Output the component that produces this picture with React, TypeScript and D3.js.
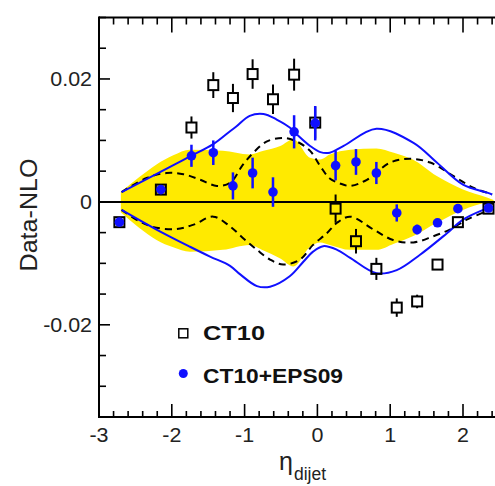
import React from "react";
import * as d3 from "d3";

// ---- data ----
const etaPts = [-2.72, -2.15, -1.73, -1.43, -1.16, -0.89, -0.61, -0.32, -0.03, 0.25, 0.53, 0.81, 1.09, 1.37, 1.65, 1.93, 2.35];
const ct10Val = [-0.0033, 0.002, 0.0121, 0.019, 0.0169, 0.0208, 0.0167, 0.0207, 0.0129, -0.0011, -0.0064, -0.0109, -0.0172, -0.0162, -0.0102, -0.0033, -0.0011];
const ct10Err = [0.0005, 0.0006, 0.0018, 0.0021, 0.0023, 0.0024, 0.0024, 0.0026, 0.0026, 0.0023, 0.002, 0.0018, 0.0015, 0.0011, 0.0008, 0.0006, 0.0005];
const epsVal = [-0.0033, 0.002, 0.0075, 0.008, 0.0026, 0.0047, 0.0016, 0.0114, 0.0128, 0.0059, 0.0065, 0.0047, -0.0018, -0.0045, -0.0034, -0.0011, -0.001];
const epsErr = [0.0004, 0.0005, 0.0018, 0.002, 0.0022, 0.0025, 0.0024, 0.0027, 0.0028, 0.0024, 0.0021, 0.0018, 0.0014, 0.0008, 0.0005, 0.0004, 0.0004];

const bandEta = [-2.7, -2.45, -2.21, -1.98, -1.75, -1.3, -0.93, -0.74, -0.51, -0.33, -0.1, 0.04, 0.17, 0.45, 0.81, 1.05, 1.31, 1.64, 2.0, 2.33, 2.42];
const bandHi = [0.0016, 0.004, 0.0061, 0.0076, 0.0085, 0.0083, 0.0077, 0.0083, 0.0091, 0.0102, 0.0072, 0.0069, 0.0077, 0.0085, 0.0087, 0.008, 0.0069, 0.0042, 0.002, 0.0007, 0.0003];
const bandLo = [-0.0017, -0.0042, -0.0062, -0.0074, -0.0081, -0.0078, -0.007, -0.0079, -0.0092, -0.0105, -0.0073, -0.0066, -0.007, -0.0078, -0.0078, -0.0068, -0.0056, -0.0034, -0.0013, -0.0001, 0.0];

const blueUpEta = [-2.69, -2.07, -1.75, -1.43, -1.2, -1.11, -0.93, -0.74, -0.56, -0.38, -0.32, -0.1, 0.04, 0.17, 0.36, 0.81, 1.32, 1.64, 2.0, 2.33, 2.4];
const blueUpVal = [0.0016, 0.0054, 0.0074, 0.0094, 0.0115, 0.0123, 0.014, 0.0143, 0.0134, 0.0121, 0.0114, 0.0091, 0.0081, 0.008, 0.0091, 0.0119, 0.0096, 0.0064, 0.0028, 0.0015, 0.0012];
const blueLoEta = [-2.69, -2.21, -1.75, -1.475, -1.2, -1.06, -0.83, -0.65, -0.38, -0.19, -0.06, 0.08, 0.27, 0.45, 0.81, 1.09, 1.41, 1.78, 2.0, 2.28, 2.4];
const blueLoVal = [-0.0013, -0.0045, -0.0073, -0.0089, -0.0104, -0.0118, -0.0137, -0.0138, -0.0121, -0.0097, -0.0081, -0.0072, -0.0078, -0.0091, -0.0116, -0.0111, -0.0086, -0.0051, -0.0029, -0.0013, -0.0008];
const dashUpEta = [-2.69, -2.345, -2.07, -1.84, -1.61, -1.38, -1.2, -1.02, -0.88, -0.7, -0.47, -0.28, -0.1, 0.04, 0.17, 0.31, 0.45, 0.68, 1.0, 1.27, 1.55, 1.87, 2.14, 2.33, 2.4];
const dashUpVal = [0.0016, 0.0039, 0.0047, 0.0045, 0.0036, 0.0026, 0.0031, 0.0061, 0.008, 0.0098, 0.0104, 0.0098, 0.0083, 0.0058, 0.0038, 0.003, 0.0026, 0.0036, 0.0064, 0.007, 0.0064, 0.0042, 0.0023, 0.0015, 0.0012];
const dashLoEta = [-2.69, -2.44, -2.21, -1.93, -1.7, -1.43, -1.2, -1.02, -0.83, -0.65, -0.47, -0.24, -0.06, 0.13, 0.27, 0.45, 0.77, 1.04, 1.32, 1.59, 1.82, 2.05, 2.33, 2.4];
const dashLoVal = [-0.0013, -0.0032, -0.0042, -0.0044, -0.0037, -0.0024, -0.004, -0.0059, -0.0078, -0.0094, -0.0102, -0.0094, -0.007, -0.0051, -0.0034, -0.0024, -0.0045, -0.0062, -0.0066, -0.0056, -0.0045, -0.0029, -0.0015, -0.0012];

const xMajor = [-3, -2, -1, 0, 1, 2];
const xLabels = ["-3", "-2", "-1", "0", "1", "2"];
const yMajor = [-0.02, 0, 0.02];
const yLabels = ["-0.02", "0", "0.02"];
const legendLabels = ["CT10", "CT10+EPS09"];

const W = 495;
const H = 486;
const FONT = "'Liberation Sans', Arial, Helvetica, sans-serif";
const BLUE = "#1010ff";
const YELLOW = "#ffea00";

export default function App() {
  const x = d3.scaleLinear().domain([-3, 2.5]).range([99, 99 + 5.5 * 72.8]);
  const y = d3.scaleLinear().domain([-0.035, 0.03]).range([417, 17.5]);
  const x0 = x(-3);
  const yTop = y(0.03);
  const yBot = y(-0.035);

  const band = d3
    .area<number>()
    .x((_, i) => x(bandEta[i]))
    .y0((_, i) => y(bandLo[i]))
    .y1((_, i) => y(bandHi[i]))
    .curve(d3.curveMonotoneX);

  const mkLine = (etas: number[], vals: number[]) =>
    d3
      .line<number>()
      .x((_, i) => x(etas[i]))
      .y((d) => y(d))
      .curve(d3.curveCatmullRom.alpha(0.5))(vals) || "";

  const xMinor = d3.range(-3, 2.51, 0.2).map((v) => Math.round(v * 10) / 10);
  const yMinor = d3.range(-0.035, 0.0301, 0.005).map((v) => Math.round(v * 1000) / 1000);

  const sq = 10;

  return (
    <svg width={W} height={H} style={{ position: "absolute", left: 0, top: 0, background: "#fff" }} fontFamily={FONT}>
      <rect x={0} y={0} width={W} height={H} fill="#fff" />
      {/* band */}
      <path d={band(bandHi) || ""} fill={YELLOW} stroke="none" />
      {/* zero line */}
      <line x1={x0} x2={W} y1={y(0)} y2={y(0)} stroke="#000" strokeWidth={2} />
      {/* dashed */}
      <path d={mkLine(dashUpEta, dashUpVal)} fill="none" stroke="#000" strokeWidth={2} strokeDasharray="7,5" />
      <path d={mkLine(dashLoEta, dashLoVal)} fill="none" stroke="#000" strokeWidth={2} strokeDasharray="7,5" />
      {/* blue */}
      <path d={mkLine(blueUpEta, blueUpVal)} fill="none" stroke={BLUE} strokeWidth={2} />
      <path d={mkLine(blueLoEta, blueLoVal)} fill="none" stroke={BLUE} strokeWidth={2} />
      {/* CT10 */}
      {etaPts.map((e, i) => {
        const cx = x(e);
        const cy = y(ct10Val[i]);
        const yHi = y(ct10Val[i] + ct10Err[i]);
        const yLo = y(ct10Val[i] - ct10Err[i]);
        return (
          <g key={"c" + i}>
            {yHi < cy - sq / 2 && <line x1={cx} x2={cx} y1={yHi} y2={cy - sq / 2} stroke="#000" strokeWidth={2} />}
            {yLo > cy + sq / 2 && <line x1={cx} x2={cx} y1={cy + sq / 2} y2={yLo} stroke="#000" strokeWidth={2} />}
            <rect x={cx - sq / 2} y={cy - sq / 2} width={sq} height={sq} fill="none" stroke="#000" strokeWidth={2} />
          </g>
        );
      })}
      {/* EPS09 */}
      {etaPts.map((e, i) => {
        const cx = x(e);
        const cy = y(epsVal[i]);
        return (
          <g key={"e" + i}>
            <line x1={cx} x2={cx} y1={y(epsVal[i] + epsErr[i])} y2={y(epsVal[i] - epsErr[i])} stroke={BLUE} strokeWidth={2.5} />
            <circle cx={cx} cy={cy} r={4.8} fill={BLUE} />
          </g>
        );
      })}
      {/* axes frame */}
      <line x1={x0} x2={W} y1={yBot} y2={yBot} stroke="#000" strokeWidth={2} />
      <line x1={x0} x2={W} y1={yTop} y2={yTop} stroke="#000" strokeWidth={2} />
      <line x1={x0} x2={x0} y1={yTop - 1} y2={yBot + 1} stroke="#000" strokeWidth={2} />
      {/* x ticks */}
      {xMinor.map((v, i) => {
        const major = Math.abs(v - Math.round(v)) < 1e-6;
        const px = x(v);
        return (
          <g key={"xt" + i}>
            <line x1={px} x2={px} y1={yBot} y2={yBot - (major ? 13 : 6)} stroke="#000" strokeWidth={1.6} />
            <line x1={px} x2={px} y1={yTop} y2={yTop + (major ? 15 : 7)} stroke="#000" strokeWidth={1.6} />
          </g>
        );
      })}
      {/* y ticks */}
      {yMinor.map((v, i) => {
        const major = yMajor.some((m) => Math.abs(m - v) < 1e-6);
        const py = y(v);
        return <line key={"yt" + i} x1={x0} x2={x0 + (major ? 11 : 7)} y1={py} y2={py} stroke="#000" strokeWidth={1.6} />;
      })}
      {/* tick labels */}
      {xMajor.map((v, i) => (
        <text key={"xl" + i} transform={`translate(${x(v)},442) scale(1.1,1)`} textAnchor="middle" fontSize={19.5} fill="#222">
          {xLabels[i]}
        </text>
      ))}
      {yMajor.map((v, i) => (
        <text key={"yl" + i} transform={`translate(92,${y(v) + 7}) scale(1.1,1)`} textAnchor="end" fontSize={19.5} fill="#222">
          {yLabels[i]}
        </text>
      ))}
      {/* axis titles */}
      <text transform="translate(37,215) rotate(-90)" textAnchor="middle" fontSize={23} fill="#222" textLength={113} lengthAdjust="spacingAndGlyphs">
        Data-NLO
      </text>
      <text x={279} y={470} fontSize={25} fill="#222">
        η
      </text>
      <text x={294} y={480} fontSize={17.5} fill="#222">
        dijet
      </text>
      {/* legend */}
      <rect x={183.3 - 4.5} y={333.3 - 4.5} width={9} height={9} fill="none" stroke="#000" strokeWidth={1.5} />
      <text x={203} y={340} fontSize={20} fontWeight="bold" fill="#111" textLength={62} lengthAdjust="spacingAndGlyphs">
        {legendLabels[0]}
      </text>
      <circle cx={183.3} cy={373.5} r={4.5} fill={BLUE} />
      <text x={203} y={382.5} fontSize={20} fontWeight="bold" fill="#111" textLength={140} lengthAdjust="spacingAndGlyphs">
        {legendLabels[1]}
      </text>
    </svg>
  );
}
